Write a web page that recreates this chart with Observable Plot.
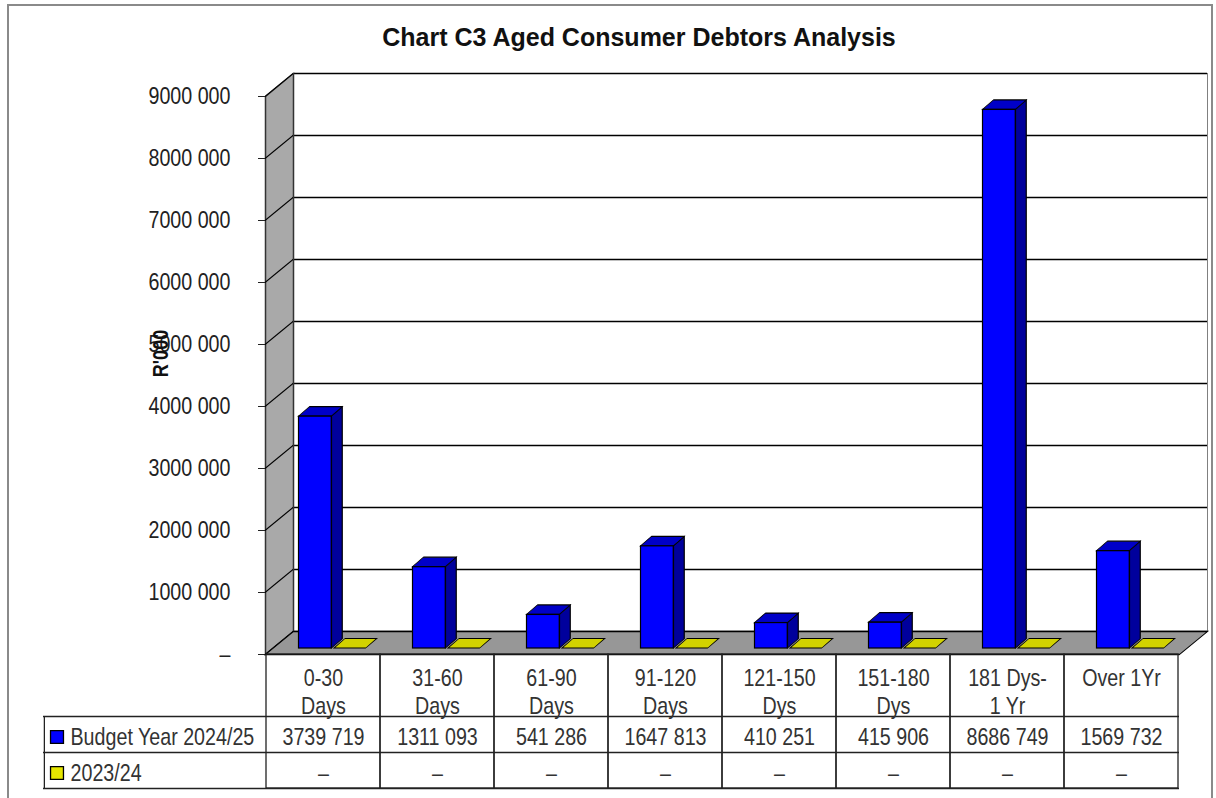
<!DOCTYPE html>
<html>
<head>
<meta charset="utf-8">
<script src="https://cdn.jsdelivr.net/npm/d3@7"></script>
<script src="https://cdn.jsdelivr.net/npm/@observablehq/plot@0.6"></script>
<style>
  body { margin: 0; background: #fff; }
  #wrap { position: relative; width: 1216px; height: 798px; overflow: hidden; background: #fff; }
  #border { position: absolute; left: 7px; top: 4px; width: 1206px; height: 806px; border: 2px solid #8a8a8a; box-sizing: border-box; pointer-events: none; }
  #title { position: absolute; left: 0; top: 23px; width: 1278px; text-align: center; font: bold 25px "Liberation Sans", Arial, sans-serif; color: #111; }
  #chart { position: absolute; left: 0; top: 60px; }
</style>
</head>
<body>
<div id="wrap">
  <div id="title">Chart C3 Aged Consumer Debtors Analysis</div>
  <div id="chart"></div>
  <div id="border"></div>
</div>
<script>
// ---- data ----
const categories = ["0-30\nDays", "31-60\nDays", "61-90\nDays", "91-120\nDays", "121-150\nDys", "151-180\nDys", "181 Dys-\n1 Yr", "Over 1Yr"];
const budget2425 = [3739719, 1311093, 541286, 1647813, 410251, 415906, 8686749, 1569732];
const prior2324 = [0, 0, 0, 0, 0, 0, 0, 0];
const seriesNames = ["Budget Year 2024/25", "2023/24"];
const yTicks = [0, 1000000, 2000000, 3000000, 4000000, 5000000, 6000000, 7000000, 8000000, 9000000];
const yTitle = "R'000";

// ---- formatting ----
const fmt = v => v === 0 || v == null ? "\u2013" : (v >= 1000 ? `${Math.floor(v / 1000)} ${String(v % 1000).padStart(3, "0")}` : String(v));

// ---- font detection (narrow font if available, else condense regular) ----
function measure(font, s) { const c = document.createElement("canvas").getContext("2d"); c.font = font; return c.measureText(s).width; }
const narrowOK = measure("24px 'Liberation Sans Narrow'", seriesNames[0]) < 0.9 * measure("24px 'Liberation Sans'", seriesNames[0]);
const FF = narrowOK ? "'Liberation Sans Narrow', 'Arial Narrow', sans-serif" : "'Liberation Sans', Arial, sans-serif";
const FS = 24;
const CONDENSE = narrowOK ? 1 : 0.82;

// ---- layout ----
const W = 1216, H = 738, mL = 265, mR = 37, mT = 36, mB = 144;
const plotW = W - mL - mR, plotH = H - mT - mB;
const bw = plotW / categories.length;
const WX = 28, WY = 23;      // wall depth
const DX = 11, DY = 9.5;     // bar depth
const BAR_DY = -6;
const idx = d3.range(categories.length);
const xc = i => categories[i];
const TXT = "#333";

const chart = Plot.plot({
  width: W, height: H,
  marginLeft: mL, marginRight: mR, marginTop: mT, marginBottom: mB,
  style: { fontFamily: FF, fontSize: FS + "px", color: "#222", background: "transparent", overflow: "visible" },
  x: { type: "band", domain: categories, padding: 0, axis: null },
  y: { domain: [0, 9000000], ticks: yTicks, tickFormat: fmt, tickSize: 7, tickPadding: 28, label: null },
  marks: [
    // back wall
    Plot.frame({ fill: "white", stroke: "#808080", dx: WX, dy: -WY }),
    Plot.ruleY(yTicks, { stroke: "black", strokeWidth: 1.5, dx: WX, dy: -WY }),
    // side wall
    Plot.frame({ fill: "#a9a9a9", stroke: "#333", strokeWidth: 1.5, insetRight: plotW - WX, ariaDescription: "side-wall" }),
    Plot.ruleY(yTicks, { stroke: "black", strokeWidth: 1.5, insetRight: plotW - WX, ariaDescription: "side-grid" }),
    // floor
    Plot.frame({ fill: "#979797", stroke: "black", strokeWidth: 1.5, insetTop: plotH - WY, ariaDescription: "floor" }),
    // budget bars: side, top, front
    Plot.barY(idx, { x: xc, y1: 0, y2: i => budget2425[i], insetLeft: 65.5, insetRight: bw - 65.5 - DX, dy: BAR_DY, fill: "#00009c", stroke: "black", strokeWidth: 1.2, ariaDescription: "bar-side" }),
    Plot.barY(idx, { x: xc, y1: i => budget2425[i], y2: i => budget2425[i], insetTop: -DY, insetLeft: 32.5, insetRight: bw - 65.5, dy: BAR_DY, fill: "#0000c8", stroke: "black", strokeWidth: 1.2, ariaDescription: "bar-top" }),
    Plot.barY(idx, { x: xc, y1: 0, y2: i => budget2425[i], insetLeft: 32.5, insetRight: bw - 65.5, dy: BAR_DY, fill: "#0000ff", stroke: "black", strokeWidth: 1.2 }),
    // prior year (flat) bars
    Plot.barY(idx, { x: xc, y1: i => prior2324[i], y2: i => prior2324[i], insetTop: -DY, insetLeft: 68, insetRight: bw - 100, dy: BAR_DY, fill: "#d2d200", stroke: "black", strokeWidth: 1.2, ariaDescription: "prior-top" }),
    // data table: cells
    Plot.barY(idx, { x: xc, y1: 0, y2: 0, insetBottom: -134, fill: "none", stroke: "#222", strokeWidth: 1.3 }),
    Plot.ruleY([0], { dy: 62, insetLeft: -222, stroke: "#222", strokeWidth: 1.3 }),
    Plot.ruleY([0], { dy: 98, insetLeft: -222, stroke: "#222", strokeWidth: 1.3 }),
    Plot.ruleY([0], { dy: 134, insetLeft: -222, stroke: "#222", strokeWidth: 1.3 }),
    Plot.ruleX([categories[0]], { dx: 43 - mL - bw / 2, insetTop: plotH + 62, insetBottom: -134, stroke: "#222", strokeWidth: 1.3 }),
    // table text (category labels top-aligned in their cells)
    Plot.text(idx, { x: xc, text: xc, frameAnchor: "bottom", dy: 11.5, lineAnchor: "top", lineHeight: 28 / FS, fill: TXT }),
    Plot.text(idx, { x: xc, text: i => fmt(budget2425[i]), frameAnchor: "bottom", lineAnchor: "middle", dy: 83, fill: TXT }),
    Plot.text(idx, { x: xc, text: i => fmt(prior2324[i]), frameAnchor: "bottom", lineAnchor: "middle", dy: 119, fill: TXT }),
    Plot.text([seriesNames[0]], { text: d => d, frameAnchor: "bottom-left", lineAnchor: "middle", textAnchor: "start", dx: 70 - mL, dy: 83, fill: TXT }),
    Plot.text([seriesNames[1]], { text: d => d, frameAnchor: "bottom-left", lineAnchor: "middle", textAnchor: "start", dx: 70 - mL, dy: 119, fill: TXT }),
    Plot.dot([seriesNames[0]], { frameAnchor: "bottom-left", dx: 56.5 - mL, dy: 82.5, symbol: "square", r: 7.3, fill: "#0000ff", stroke: "black", strokeWidth: 1.3 }),
    Plot.dot([seriesNames[1]], { frameAnchor: "bottom-left", dx: 56.5 - mL, dy: 118.5, symbol: "square", r: 7.3, fill: "#e6e600", stroke: "black", strokeWidth: 1.3 }),
    // y title
    Plot.text([yTitle], { text: d => d, frameAnchor: "left", textAnchor: "middle", lineAnchor: "middle", dx: 160 - mL, dy: -22, rotate: -90, fontWeight: "bold", fontSize: FS - 2, fill: "#111" })
  ]
});

document.getElementById("chart").appendChild(chart);
const root = chart.tagName.toLowerCase() === "svg" ? chart : chart.querySelector("svg");

// ---- 3D skew post-processing (pure styling on Plot's own elements) ----
function targets(desc, tag) {
  const out = [];
  root.querySelectorAll(`[aria-description="${desc}"]`).forEach(n => {
    if (n.tagName.toLowerCase() === tag) out.push(n);
    else n.querySelectorAll(tag).forEach(c => out.push(c));
  });
  return out;
}
const deg = r => r * 180 / Math.PI;
const num = s => (s != null && /^-?[\d.]+(e-?\d+)?$/.test(s.trim())) ? +s : 0;
function addTransform(el, t) { el.setAttribute("transform", `${el.getAttribute("transform") || ""} ${t}`); }
function skewYAtX(el, dx, dy) {
  const x0 = num(el.getAttribute(el.tagName.toLowerCase() === "line" ? "x1" : "x"));
  addTransform(el, `translate(${x0},0) skewY(${-deg(Math.atan2(dy, dx))}) translate(${-x0},0)`);
}
function skewXAtBottom(el, dx, dy) {
  const y0 = num(el.getAttribute("y")) + num(el.getAttribute("height"));
  addTransform(el, `translate(0,${y0}) skewX(${-deg(Math.atan2(dx, dy))}) translate(0,${-y0})`);
}
targets("side-wall", "rect").forEach(el => skewYAtX(el, WX, WY));
targets("side-grid", "line").forEach(el => skewYAtX(el, WX, WY));
targets("floor", "rect").forEach(el => skewXAtBottom(el, WX, WY));
targets("bar-side", "rect").forEach(el => skewYAtX(el, DX, DY));
targets("bar-top", "rect").forEach(el => skewXAtBottom(el, DX, DY));
targets("prior-top", "rect").forEach(el => skewXAtBottom(el, DX, DY));

// ---- condensed (Arial Narrow-like) text when no narrow font is installed ----
if (CONDENSE !== 1) {
  root.querySelectorAll("text").forEach(el => {
    const x0 = num(el.getAttribute("x"));
    addTransform(el, `translate(${x0},0) scale(${CONDENSE},1) translate(${-x0},0)`);
  });
}
</script>
</body>
</html>
